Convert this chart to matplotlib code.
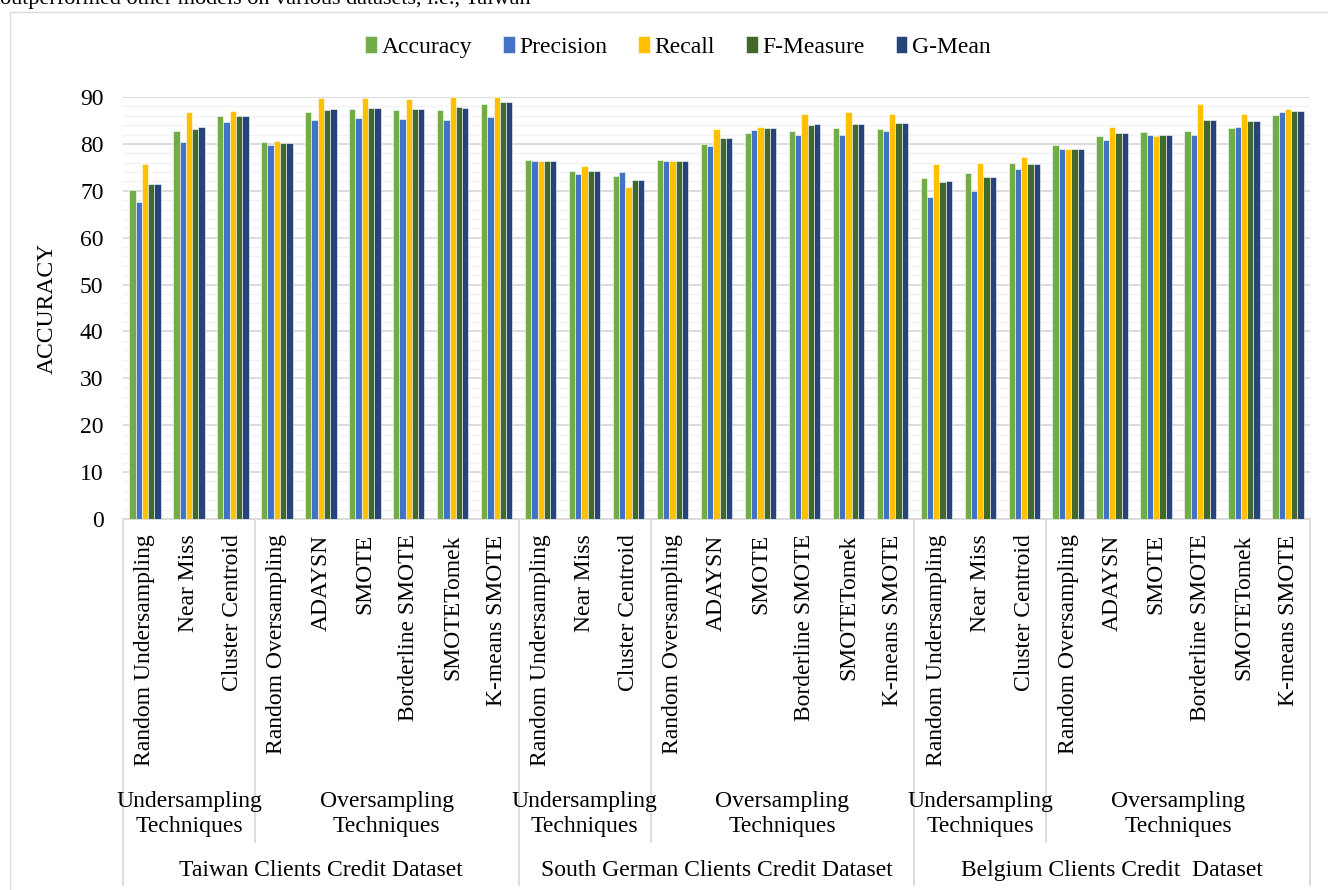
import matplotlib.pyplot as plt
from matplotlib.patches import Rectangle
import matplotlib.transforms as mtransforms

plt.rcParams['font.family'] = ['Liberation Serif', 'DejaVu Serif']

# sampling techniques, repeated for every dataset
techniques = ["Random Undersampling", "Near Miss", "Cluster Centroid",
              "Random Oversampling", "ADAYSN", "SMOTE", "Borderline SMOTE",
              "SMOTETomek", "K-means SMOTE"]
datasets = ["Taiwan Clients Credit Dataset",
            "South German Clients Credit Dataset",
            "Belgium Clients Credit  Dataset"]
families = ["Undersampling\nTechniques", "Oversampling\nTechniques"]
family_sizes = [3, 6]

metrics = ["Accuracy", "Precision", "Recall", "F-Measure", "G-Mean"]
colors = ["#70AD47", "#4472C4", "#FFC000", "#43682B", "#264478"]

# Taiwan | South German | Belgium, 9 techniques each
accuracy = [70.2, 82.8, 85.9, 80.3, 86.8, 87.4, 87.2, 87.3, 88.6,
            76.6, 74.3, 73.2, 76.6, 79.9, 82.3, 82.8, 83.4, 83.2,
            72.8, 73.8, 75.9, 79.8, 81.7, 82.5, 82.8, 83.4, 86.2]
precision = [67.5, 80.4, 84.7, 79.8, 85.0, 85.6, 85.3, 85.2, 85.8,
             76.3, 73.5, 73.9, 76.3, 79.5, 82.9, 82.0, 82.0, 82.7,
             68.7, 70.0, 74.7, 78.9, 80.9, 81.9, 82.0, 83.5, 86.8]
recall = [75.8, 86.9, 87.1, 80.6, 89.8, 89.8, 89.5, 90.0, 90.0,
          76.3, 75.2, 70.7, 76.3, 83.2, 83.7, 86.4, 86.8, 86.4,
          75.8, 76.0, 77.1, 78.9, 83.7, 81.7, 88.6, 86.4, 87.4]
f_measure = [71.4, 83.2, 85.9, 80.1, 87.3, 87.6, 87.5, 87.9, 88.9,
             76.3, 74.3, 72.3, 76.3, 81.3, 83.3, 84.1, 84.3, 84.5,
             71.9, 72.9, 75.8, 78.9, 82.3, 81.8, 85.1, 84.9, 87.0]
g_mean = [71.5, 83.6, 85.9, 80.1, 87.4, 87.6, 87.4, 87.6, 88.9,
          76.3, 74.3, 72.3, 76.3, 81.3, 83.3, 84.2, 84.3, 84.5,
          72.1, 72.9, 75.8, 78.9, 82.3, 81.8, 85.2, 84.9, 87.0]
series = [accuracy, precision, recall, f_measure, g_mean]

labels = techniques * len(datasets)
x = list(range(len(labels)))

fig = plt.figure(figsize=(13.28, 8.9), dpi=100)
ax = fig.add_axes([123 / 1328, 1 - 519 / 890, 1187 / 1328, 422 / 890])

w = 0.143
for i, (vals, name, c) in enumerate(zip(series, metrics, colors)):
    ax.bar([p + (i - 2) * w for p in x], vals, width=w, color=c,
           edgecolor="white", linewidth=0.4, label=name, zorder=3)

ax.set_xlim(-0.5, len(labels) - 0.5)
ax.set_ylim(0, 90)
ax.set_yticks(range(0, 91, 10))
ax.set_yticks(range(0, 91, 2), minor=True)
ax.grid(axis="y", which="major", color="#D9D9D9", linewidth=1.3, zorder=0)
ax.grid(axis="y", which="minor", color="#F2F2F2", linewidth=1.0, zorder=0)
ax.tick_params(axis="y", which="both", length=0, pad=14, labelsize=17)
ax.set_xticks(x)
ax.set_xticklabels(labels, rotation=90, va="top", fontsize=17)
ax.tick_params(axis="x", length=0, pad=11)
for s in ["top", "right", "left"]:
    ax.spines[s].set_visible(False)
ax.spines["bottom"].set_color("#D9D9D9")
ax.spines["bottom"].set_linewidth(1.3)

ax.set_ylabel("ACCURACY", fontsize=17)
ax.yaxis.set_label_coords(-0.0548, 0.5)

# multi-level category axis: separators and group captions
trans = mtransforms.blended_transform_factory(ax.transData, ax.transAxes)
n_tech = len(techniques)
for d, dname in enumerate(datasets):
    start = d * n_tech
    ax.plot([start - 0.5, start - 0.5], [0, -0.867], transform=trans,
            color="#D9D9D9", lw=1.3, clip_on=False)
    ax.text(start + (n_tech - 1) / 2, -0.832, dname, transform=trans,
            ha="center", va="center", fontsize=17)
    pos = start
    for f, (fname, size) in enumerate(zip(families, family_sizes)):
        if f > 0:
            ax.plot([pos - 0.5, pos - 0.5], [0, -0.765], transform=trans,
                    color="#D9D9D9", lw=1.3, clip_on=False)
        ax.text(pos + (size - 1) / 2, -0.699, fname, transform=trans,
                ha="center", va="center", fontsize=17, linespacing=1.25)
        pos += size
end = len(labels) - 0.5
ax.plot([end, end], [0, -0.867], transform=trans,
        color="#D9D9D9", lw=1.3, clip_on=False)

fig.legend(loc="center", bbox_to_anchor=(678 / 1328, 1 - 47 / 890),
           ncol=5, frameon=False, fontsize=17, handlelength=0.5,
           handleheight=0.75, handletextpad=0.2, columnspacing=1.3)

# chart frame and the line of body text above it
fig.patches.append(Rectangle((10 / 1328, -0.02), 1.0, 1 - 12 / 890 + 0.02,
                             transform=fig.transFigure, fill=False,
                             edgecolor="#D9D9D9", linewidth=1.0))
fig.text(0.0, 1 - 4 / 890,
         "outperformed other models on various datasets, i.e., Taiwan",
         ha="left", va="baseline", fontsize=16)

fig.savefig("out.png", dpi=100)
